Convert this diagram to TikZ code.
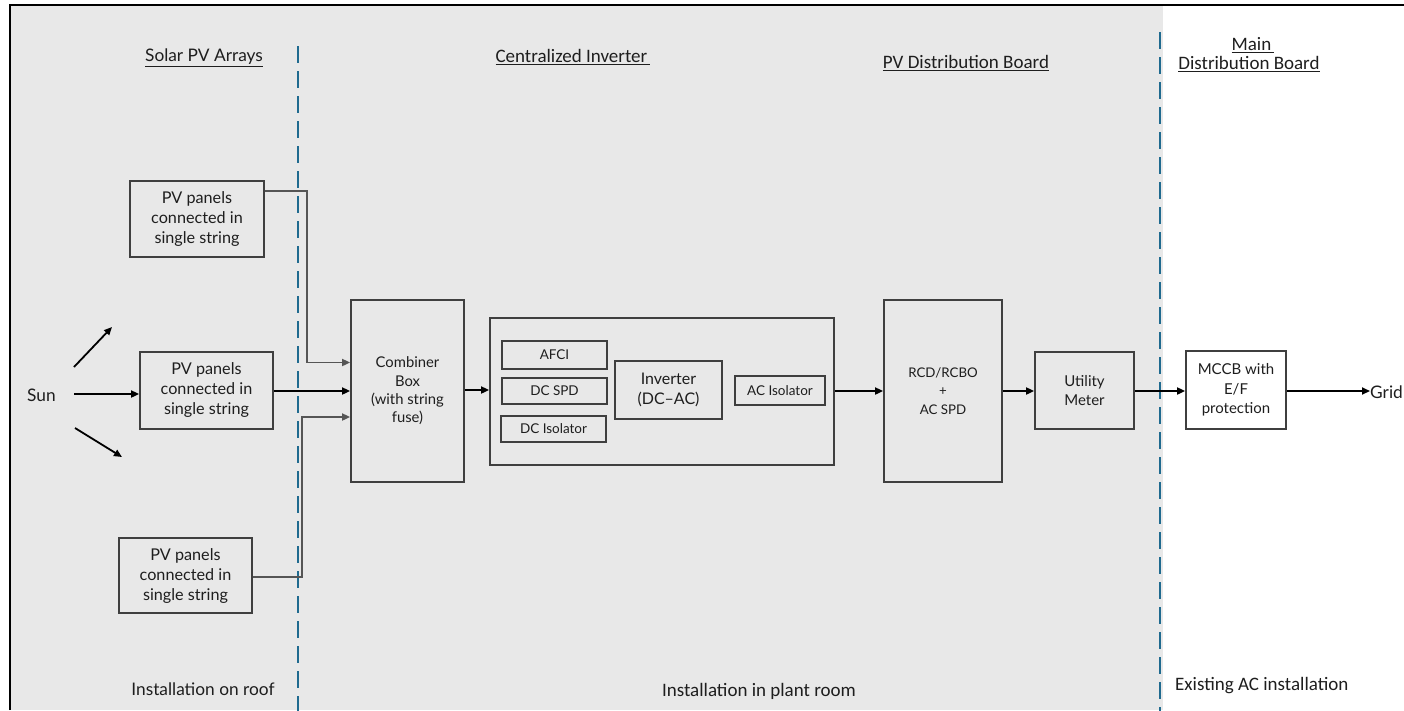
\documentclass[tikz,border=0pt]{standalone}
\usepackage{fontspec}
\setmainfont{Lato}
\newfontfamily\narrowfont{Carlito}
\usetikzlibrary{arrows.meta}
\definecolor{bgc}{HTML}{E8E8E8}
\definecolor{boxc}{HTML}{3F3F3F}
\definecolor{txt}{HTML}{1E1E1E}
\definecolor{gline}{HTML}{555555}
\definecolor{divc}{HTML}{1F6A8F}
\begin{document}
\begin{tikzpicture}[x=1pt,y=-1pt,
  box/.style={draw=boxc, line width=1.8pt, inner sep=0pt, align=center, text=txt, font=\fontsize{16.2}{20}\selectfont},
  sbox/.style={box, font=\fontsize{13.5}{16}\selectfont},
  lbl/.style={text=txt, inner sep=0pt, align=center, font=\fontsize{17.3}{20}\selectfont},
  hdr/.style={text=txt, inner sep=0pt, align=center, font=\narrowfont\fontsize{19}{20}\selectfont},
  conn/.style={line width=1.8pt, draw=black, -{Triangle[length=8pt,width=7pt]}},
  gconn/.style={conn, draw=gline, -{Triangle[length=8pt,width=7pt,fill=gline]}},
  divider/.style={draw=divc, line width=2pt, dash pattern=on 17pt off 8pt}]
\useasboundingbox (0,0) rectangle (1404,710);
% background
\fill[bgc] (10,5) rectangle (1163,710);
\draw[line width=2.6pt, black] (10,710) -- (10,5) -- (1404,5);
% dividers
\draw[divider] (298,46) -- (298,712);
\draw[divider] (1160,32) -- (1160,712);
% headers
\node[lbl] (h1) at (204,58) {\underline{Solar PV Arrays}};
\node[hdr] (h2) at (573,57) {\underline{Centralized Inverter\,}};
\node[hdr] (h3) at (966,63) {\underline{PV Distribution Board}};
\node[hdr] (h4a) at (1253,45) {\underline{Main\,}};
\node[hdr] (h4b) at (1249,64) {\underline{Distribution Board}};
\node[lbl] (f1) at (203,689) {Installation on roof};
\node[hdr] (f2) at (759,691) {Installation in plant room};
\node[hdr, anchor=west] (f3) at (1175,686) {Existing AC installation};
% boxes
\node[box, minimum width=134pt, minimum height=76pt] (pv1) at (197,219) {PV panels\\connected in\\single string};
\node[box, minimum width=133pt, minimum height=77pt] (pv2) at (206.5,390.5) {PV panels\\connected in\\single string};
\node[box, minimum width=133pt, minimum height=75pt] (pv3) at (185.5,575.5) {PV panels\\connected in\\single string};
\node[box, font=\fontsize{14.8}{18.3}\selectfont, minimum width=113pt, minimum height=182pt] (comb) at (407.5,391) {Combiner\\Box\\(with string\\fuse)};
\node[box, minimum width=344pt, minimum height=147pt] (inv) at (662,391.5) {};
\node[sbox, minimum width=105pt, minimum height=28pt] (afci) at (554.5,355) {AFCI};
\node[sbox, minimum width=105pt, minimum height=26pt] (dcspd) at (554.5,391) {DC SPD};
\node[sbox, minimum width=105pt, minimum height=26pt] (dciso) at (553.5,429) {DC Isolator};
\node[box, font=\fontsize{16}{20}\selectfont, minimum width=107pt, minimum height=58pt] (inverter) at (668.5,390) {Inverter\\(DC–AC)};
\node[sbox, minimum width=90pt, minimum height=29pt] (aciso) at (780,390.5) {AC Isolator};
\node[box, font=\fontsize{13.3}{18.5}\selectfont, minimum width=118pt, minimum height=182pt] (rcd) at (943,391) {RCD/RCBO\\+\\AC SPD};
\node[box, font=\fontsize{15}{19}\selectfont, minimum width=99pt, minimum height=77pt] (meter) at (1084.5,390.5) {Utility\\Meter};
\node[box, font=\fontsize{15}{19.5}\selectfont, minimum width=100pt, minimum height=78pt] (mccb) at (1236,390) {MCCB with\\E/F\\protection};
\node[lbl, anchor=west] (sun) at (27,395) {Sun};
\node[lbl, anchor=west] (grid) at (1370,392) {Grid};
% sun rays
\coordinate (u0) at (74,367); \coordinate (u1) at (112,327);
\coordinate (d0) at (75,428); \coordinate (d1) at (122,457);
\coordinate (s0) at (74,394);
\draw[conn] (u0) -- (u1);
\draw[conn] (d0) -- (d1);
\draw[conn] (s0) -- (pv2.west |- s0);
% strings to combiner
\coordinate (k1) at (307,191);
\coordinate (k3) at (302,577);
\draw[gconn] (pv1.east |- k1) -- (k1) |- (comb.west |- 0,362.5);
\draw[conn] (pv2.east |- 0,391) -- (comb.west |- 0,391);
\draw[gconn] (pv3.east |- k3) -- (k3) |- (comb.west |- 0,417);
% main chain
\draw[conn] (comb.east |- 0,390) -- (inv.west |- 0,390);
\draw[conn] (inv.east |- 0,391) -- (rcd.west |- 0,391);
\draw[conn] (rcd.east |- 0,391) -- (meter.west |- 0,391);
\draw[conn] (meter.east |- 0,391) -- (mccb.west |- 0,391);
\draw[conn] (mccb.east |- 0,391) -- (grid.west |- 0,391);
\end{tikzpicture}
\end{document}
